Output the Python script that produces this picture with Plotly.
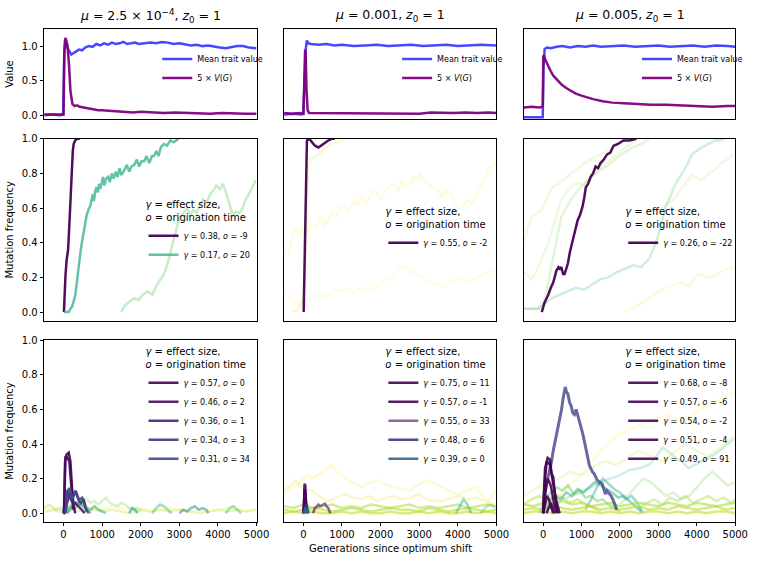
import plotly.graph_objects as go

FONT = "DejaVu Sans"

# ---------------- axes / labels ----------------
GEN_TICKS = [0, 1000, 2000, 3000, 4000, 5000]
FREQ_TICKS = [0.0, 0.2, 0.4, 0.6, 0.8, 1.0]
VALUE_TICKS = [0.0, 0.5, 1.0]
COL_TITLES = [
    "<i>μ</i> = 2.5 × 10<sup>−4</sup>, <i>z</i><sub>0</sub> = 1",
    "<i>μ</i> = 0.001, <i>z</i><sub>0</sub> = 1",
    "<i>μ</i> = 0.005, <i>z</i><sub>0</sub> = 1",
]
LEG_TITLE = "<i>γ</i> = effect size,<br><i>o</i> = origination time"
X_TITLE = "Generations since optimum shift"

# ---------------- row 1 : mean trait value and 5 x V(G) ----------------
r1c1_mean_x = [-500, -300, -100, -10, 20, 40, 80, 140, 200, 260, 330, 400, 480, 560, 650, 750, 850, 950, 1050, 1150, 1250, 1350, 1450, 1550, 1650, 1750, 1850, 1950, 2100, 2250, 2400, 2550, 2700, 2850, 3000, 3150, 3300, 3450, 3600, 3750, 3900, 4050, 4200, 4350, 4500, 4650, 4800, 5000]
r1c1_mean_y = [0.01, 0.02, 0.01, 0.02, 0.9, 1.1, 1.0, 0.93, 0.88, 0.9, 0.92, 0.95, 0.94, 0.98, 1.0, 0.99, 1.03, 1.01, 1.04, 1.02, 1.05, 1.03, 1.04, 1.06, 1.03, 1.04, 1.05, 1.03, 1.04, 1.05, 1.04, 1.06, 1.05, 1.03, 1.04, 1.02, 1.01, 1.02, 1.0, 1.01, 0.99, 0.98, 0.97, 0.99, 1.0, 1.0, 0.98, 0.97]
r1c1_var_x = [-500, -350, -200, -50, 0, 20, 50, 100, 140, 180, 230, 290, 350, 420, 500, 600, 700, 800, 900, 1000, 1200, 1400, 1600, 1800, 2000, 2300, 2600, 2900, 3200, 3500, 3800, 4100, 4400, 4700, 5000]
r1c1_var_y = [0.02, 0.02, 0.03, 0.02, 0.02, 0.9, 1.12, 1.02, 0.75, 0.35, 0.17, 0.14, 0.15, 0.13, 0.12, 0.11, 0.1, 0.09, 0.08, 0.08, 0.07, 0.06, 0.06, 0.05, 0.06, 0.05, 0.04, 0.05, 0.04, 0.04, 0.03, 0.04, 0.03, 0.03, 0.03]

r1c2_mean_x = [-500, -250, -50, 0, 30, 60, 90, 130, 200, 400, 600, 800, 1000, 1300, 1600, 1900, 2200, 2500, 2800, 3100, 3400, 3700, 4000, 4300, 4600, 5000]
r1c2_mean_y = [0.02, 0.03, 0.02, 0.03, 0.5, 0.95, 1.08, 1.04, 1.03, 1.02, 1.03, 1.01, 1.02, 1.0, 1.01, 1.02, 1.0, 1.01, 1.02, 1.0, 1.01, 1.02, 1.0, 1.01, 1.02, 1.01]
r1c2_var_x = [-500, -300, -100, 0, 20, 45, 60, 80, 110, 150, 300, 600, 900, 1200, 1500, 1800, 2100, 2400, 2700, 3000, 3300, 3600, 3900, 4200, 4500, 4800, 5000]
r1c2_var_y = [0.04, 0.03, 0.04, 0.03, 0.4, 0.95, 0.9, 0.4, 0.08, 0.04, 0.04, 0.03, 0.04, 0.04, 0.03, 0.04, 0.03, 0.04, 0.04, 0.03, 0.05, 0.04, 0.04, 0.05, 0.04, 0.05, 0.04]

r1c3_mean_x = [-500, -300, -100, -10, 10, 40, 100, 200, 350, 500, 700, 900, 1100, 1300, 1500, 1800, 2100, 2400, 2700, 3000, 3300, 3600, 3900, 4200, 4500, 4800, 5000]
r1c3_mean_y = [-0.02, -0.02, -0.03, -0.02, 0.7, 0.96, 0.98, 0.97, 0.99, 1.0, 0.98, 1.0, 0.99, 1.01, 0.99, 1.0, 1.01, 0.99, 1.0, 1.01, 0.99, 1.0, 1.01, 0.99, 1.01, 1.0, 0.99]
r1c3_var_x = [-500, -300, -100, -10, 5, 20, 60, 120, 190, 260, 360, 480, 600, 700, 850, 1000, 1150, 1300, 1550, 1800, 2100, 2400, 2800, 3200, 3600, 4000, 4400, 4800, 5000]
r1c3_var_y = [0.12, 0.13, 0.12, 0.13, 0.85, 0.87, 0.8, 0.72, 0.65, 0.58, 0.52, 0.45, 0.4, 0.37, 0.32, 0.29, 0.26, 0.24, 0.21, 0.19, 0.18, 0.17, 0.16, 0.16, 0.15, 0.14, 0.13, 0.14, 0.14]

# ---------------- row 2 : fixed mutations ----------------
r2c1_g038_x = [10, 30, 50, 80, 118, 150, 178, 200, 220, 240, 262, 300, 347, 420]
r2c1_g038_y = [0.0, 0.12, 0.21, 0.3, 0.36, 0.5, 0.65, 0.78, 0.87, 0.93, 0.97, 0.99, 1.0, 1.0]
r2c1_g017_x = [10, 60, 135, 180, 220, 260, 305, 350, 390, 430, 474, 520, 560, 600, 644, 690, 729, 760, 790, 820, 857, 890, 920, 950, 984, 1020, 1060, 1100, 1154, 1200, 1250, 1300, 1350, 1400, 1450, 1500, 1579, 1640, 1700, 1760, 1834, 1900, 1960, 2020, 2088, 2150, 2220, 2290, 2343, 2400, 2460, 2520, 2598, 2680, 2767, 2850, 2980]
r2c1_g017_y = [0.0, 0.0, 0.0, 0.02, 0.03, 0.06, 0.1, 0.18, 0.27, 0.33, 0.4, 0.46, 0.51, 0.56, 0.59, 0.61, 0.65, 0.68, 0.64, 0.7, 0.72, 0.69, 0.74, 0.71, 0.74, 0.78, 0.73, 0.77, 0.78, 0.75, 0.8, 0.77, 0.81, 0.78, 0.83, 0.79, 0.82, 0.85, 0.81, 0.84, 0.85, 0.88, 0.84, 0.87, 0.87, 0.9, 0.86, 0.9, 0.9, 0.93, 0.9, 0.95, 0.97, 0.96, 0.99, 0.98, 1.0]
r2c1_bg1_x = [1494, 1600, 1700, 1834, 1950, 2050, 2173, 2300, 2400, 2513, 2600, 2682, 2770, 2852, 2950, 3020, 3107, 3200, 3280, 3362, 3450, 3540, 3617, 3700, 3800, 3880, 3956, 4050, 4130, 4210, 4300, 4381, 4470, 4550, 4640, 4720, 4800, 4880, 4974]
r2c1_bg1_y = [0.0, 0.04, 0.06, 0.08, 0.07, 0.1, 0.12, 0.1, 0.15, 0.19, 0.22, 0.27, 0.35, 0.42, 0.5, 0.55, 0.57, 0.6, 0.56, 0.59, 0.57, 0.62, 0.65, 0.63, 0.68, 0.7, 0.73, 0.71, 0.74, 0.69, 0.62, 0.56, 0.58, 0.57, 0.6, 0.65, 0.68, 0.72, 0.76]

r2c2_g055_x = [8, 30, 60, 92, 150, 219, 300, 390, 450, 517, 580, 644, 729, 815]
r2c2_g055_y = [0.0, 0.3, 0.75, 0.99, 1.0, 0.98, 0.96, 0.95, 0.96, 0.97, 0.98, 0.99, 1.0, 1.0]
r2c2_bg1_x = [-290, -150, -35, 40, 92, 110, 200, 300, 390, 550, 729, 900, 1070]
r2c2_bg1_y = [0.0, 0.01, 0.05, 0.2, 0.46, 0.84, 0.88, 0.9, 0.91, 0.94, 0.97, 0.98, 1.0]
r2c2_bg2_x = [-502, -400, -300, -204, -100, 0, 100, 219, 330, 440, 550, 644, 750, 850, 960, 1070, 1180, 1290, 1400, 1493, 1600, 1700, 1800, 1918, 2020, 2130, 2240, 2343, 2450, 2560, 2660, 2766, 2870, 2960, 3021, 3120, 3240, 3362, 3480, 3600, 3700, 3785, 3900, 4020, 4126, 4240, 4350, 4465, 4580, 4700, 4804, 4974]
r2c2_bg2_y = [0.36, 0.33, 0.42, 0.48, 0.45, 0.5, 0.47, 0.51, 0.49, 0.55, 0.5, 0.53, 0.58, 0.55, 0.6, 0.61, 0.57, 0.64, 0.62, 0.67, 0.63, 0.66, 0.7, 0.69, 0.65, 0.7, 0.73, 0.74, 0.7, 0.76, 0.72, 0.74, 0.78, 0.75, 0.8, 0.76, 0.74, 0.72, 0.7, 0.66, 0.7, 0.69, 0.64, 0.6, 0.61, 0.65, 0.62, 0.67, 0.72, 0.76, 0.82, 0.86]
r2c2_bg3_x = [-502, -300, -120, 0, 219, 400, 600, 800, 1070, 1300, 1500, 1700, 1918, 2100, 2300, 2450, 2598, 2750, 2880, 3021, 3200, 3400, 3617, 3800, 3950, 4126, 4300, 4450, 4635, 4800, 4974]
r2c2_bg3_y = [0.12, 0.08, 0.04, 0.06, 0.08, 0.1, 0.09, 0.12, 0.13, 0.11, 0.14, 0.12, 0.15, 0.18, 0.2, 0.24, 0.27, 0.24, 0.22, 0.21, 0.18, 0.16, 0.15, 0.17, 0.2, 0.19, 0.17, 0.2, 0.21, 0.23, 0.25]

r2c3_g026_x = [-35, 30, 90, 135, 200, 262, 300, 347, 400, 440, 474, 520, 560, 600, 644, 700, 772, 840, 899, 960, 1027, 1070, 1112, 1170, 1239, 1300, 1366, 1430, 1494, 1580, 1664, 1750, 1834, 1950, 2088, 2250, 2427]
r2c3_g026_y = [0.0, 0.05, 0.08, 0.1, 0.14, 0.17, 0.2, 0.24, 0.26, 0.25, 0.26, 0.22, 0.22, 0.25, 0.28, 0.35, 0.42, 0.48, 0.53, 0.56, 0.61, 0.66, 0.72, 0.74, 0.78, 0.8, 0.84, 0.83, 0.86, 0.88, 0.91, 0.92, 0.96, 0.97, 0.99, 0.99, 1.0]
r2c3_bg1_x = [-502, -300, -120, 50, 220, 350, 474, 600, 729, 900, 1069, 1250, 1494, 1700, 1919, 2100, 2343, 2550, 2766]
r2c3_bg1_y = [0.02, 0.02, 0.02, 0.08, 0.27, 0.42, 0.55, 0.6, 0.65, 0.7, 0.74, 0.78, 0.82, 0.85, 0.89, 0.92, 0.95, 0.97, 1.0]
r2c3_bg2_x = [-502, -400, -290, -150, -35, 100, 220, 382, 500, 644, 850, 1069, 1250, 1494, 1700, 1919, 2173]
r2c3_bg2_y = [0.4, 0.48, 0.55, 0.57, 0.59, 0.66, 0.72, 0.74, 0.76, 0.78, 0.82, 0.86, 0.88, 0.91, 0.94, 0.97, 1.0]
r2c3_bg3_x = [-502, -400, -290, -150, -35, 100, 220, 350, 474, 644, 815, 1069, 1250, 1494, 1700, 1919, 2150, 2427]
r2c3_bg3_y = [0.23, 0.21, 0.19, 0.25, 0.31, 0.38, 0.46, 0.56, 0.65, 0.7, 0.74, 0.74, 0.79, 0.84, 0.87, 0.91, 0.95, 0.99]
r2c3_bg4_x = [-502, -300, -120, 50, 220, 430, 644, 850, 1069, 1280, 1494, 1700, 1919, 2130, 2343, 2550, 2766, 2900, 3021, 3100, 3191, 3300, 3446, 3530, 3616, 3750, 3871, 4000, 4126, 4300, 4465, 4600, 4720]
r2c3_bg4_y = [0.02, 0.02, 0.02, 0.05, 0.08, 0.1, 0.12, 0.14, 0.13, 0.16, 0.19, 0.2, 0.23, 0.25, 0.27, 0.26, 0.31, 0.38, 0.46, 0.53, 0.61, 0.66, 0.74, 0.77, 0.8, 0.85, 0.91, 0.93, 0.95, 0.97, 0.99, 0.99, 1.0]
r2c3_bg5_x = [3021, 3200, 3446, 3620, 3871, 4126, 4300, 4465, 4640, 4804, 4974]
r2c3_bg5_y = [0.59, 0.62, 0.66, 0.72, 0.79, 0.76, 0.8, 0.82, 0.86, 0.88, 0.92]
r2c3_bg6_x = [2088, 2400, 2766, 3000, 3191, 3400, 3616, 3800, 4041, 4250, 4465, 4700, 4974]
r2c3_bg6_y = [0.0, 0.03, 0.08, 0.12, 0.14, 0.16, 0.17, 0.15, 0.22, 0.2, 0.21, 0.24, 0.26]

# ---------------- row 3 : largest-effect mutations ----------------
BASE_X = [-500, -250, 0, 250, 500, 750, 1000, 1250, 1500, 1750, 2000, 2250, 2500, 2750, 3000, 3250, 3500, 3750, 4000, 4250, 4500, 4750, 5000]

r3c1_g057_x = [0, 10, 40, 80, 135, 178, 220, 262, 305]
r3c1_g057_y = [0.0, 0.0, 0.3, 0.34, 0.35, 0.3, 0.15, 0.04, 0.0]
r3c1_g046_x = [5, 20, 50, 100, 150, 200, 250]
r3c1_g046_y = [0.0, 0.05, 0.33, 0.32, 0.3, 0.13, 0.02]
r3c1_g036_x = [30, 100, 150, 220, 262, 305, 390, 474, 550]
r3c1_g036_y = [0.0, 0.06, 0.11, 0.07, 0.05, 0.06, 0.04, 0.02, 0.0]
r3c1_g034_x = [40, 80, 110, 150, 200, 250, 305, 350, 400, 450, 517, 560, 600]
r3c1_g034_y = [0.0, 0.1, 0.13, 0.12, 0.07, 0.1, 0.13, 0.1, 0.07, 0.06, 0.08, 0.04, 0.01]
r3c1_g031_x = [60, 100, 140, 180, 220, 280, 330, 380, 430, 480, 530, 594, 650]
r3c1_g031_y = [0.0, 0.13, 0.14, 0.13, 0.08, 0.11, 0.12, 0.09, 0.08, 0.09, 0.07, 0.02, 0.0]
r3c1_bg1_x = [0, 100, 200, 300, 400, 500, 600, 700, 800, 900, 1000, 1100]
r3c1_bg1_y = [0.0, 0.02, 0.04, 0.03, 0.05, 0.06, 0.03, 0.02, 0.04, 0.02, 0.01, 0.0]
r3c1_bg2_x = [100, 200, 300, 400, 500, 600, 700]
r3c1_bg2_y = [0.0, 0.03, 0.05, 0.06, 0.04, 0.02, 0.0]
r3c1_bg3_x = [-500, -400, -300, -200, -100, 0, 100, 200, 300, 400, 500, 600, 700, 800, 900, 1000, 1100, 1200, 1300, 1400, 1500, 1600, 1700, 1800, 1900, 2000]
r3c1_bg3_y = [0.03, 0.05, 0.04, 0.02, 0.03, 0.01, 0.03, 0.05, 0.06, 0.07, 0.09, 0.08, 0.06, 0.07, 0.05, 0.07, 0.09, 0.06, 0.05, 0.04, 0.06, 0.05, 0.03, 0.02, 0.03, 0.01]
r3c1_bg4_x = [1700, 1780, 1850, 1920]
r3c1_bg4_y = [0.0, 0.03, 0.02, 0.0]
r3c1_bg5_x = [2300, 2400, 2500, 2600, 2700, 2800]
r3c1_bg5_y = [0.0, 0.03, 0.05, 0.04, 0.02, 0.0]
r3c1_bg6_x = [3000, 3100, 3200, 3300, 3400, 3500, 3600, 3700, 3750]
r3c1_bg6_y = [0.0, 0.02, 0.01, 0.03, 0.04, 0.02, 0.03, 0.02, 0.0]
r3c1_bg7_x = [4200, 4300, 4400, 4500, 4600]
r3c1_bg7_y = [0.0, 0.03, 0.04, 0.02, 0.0]
r3c1_base_a = [0.01, 0.02, 0.0, 0.02, 0.01, 0.02, 0.01, 0.02, 0.01, 0.0, 0.02, 0.01, 0.02, 0.01, 0.02, 0.01, 0.0, 0.01, 0.02, 0.01, 0.02, 0.01, 0.02]
r3c1_base_b = [0.03, 0.02, 0.04, 0.03, 0.05, 0.03, 0.02, 0.04, 0.03, 0.02, 0.03, 0.01, 0.02, 0.03, 0.02, 0.01, 0.02, 0.01, 0.02, 0.03, 0.02, 0.01, 0.02]

r3c2_g075_x = [0, 15, 30, 50, 65, 80, 100]
r3c2_g075_y = [0.0, 0.05, 0.17, 0.16, 0.05, 0.01, 0.0]
r3c2_g057_x = [0, 20, 35, 55, 70, 90]
r3c2_g057_y = [0.0, 0.08, 0.14, 0.12, 0.03, 0.0]
r3c2_g055_x = [250, 300, 350, 390, 430, 474, 520, 560, 600, 644, 700]
r3c2_g055_y = [0.0, 0.03, 0.04, 0.05, 0.04, 0.045, 0.05, 0.055, 0.04, 0.03, 0.0]
r3c2_g048_x = [10, 40, 70, 100, 130]
r3c2_g048_y = [0.0, 0.03, 0.05, 0.02, 0.0]
r3c2_g039_x = [20, 50, 80, 110]
r3c2_g039_y = [0.0, 0.03, 0.02, 0.0]
r3c2_bg1_x = [0, 30, 60, 90, 120, 150]
r3c2_bg1_y = [0.0, 0.04, 0.06, 0.05, 0.02, 0.0]
r3c2_bg2_x = [-502, -350, -204, -50, 100, 219, 350, 500, 644, 729, 850, 960, 1070, 1200, 1350, 1493, 1650, 1800, 1918, 2100, 2343, 2550, 2766, 2950, 3191, 3400, 3617, 3850, 4041, 4250, 4465, 4650, 4804, 4974]
r3c2_bg2_y = [0.12, 0.14, 0.16, 0.19, 0.22, 0.2, 0.22, 0.24, 0.26, 0.28, 0.24, 0.23, 0.21, 0.18, 0.17, 0.15, 0.17, 0.18, 0.19, 0.17, 0.15, 0.14, 0.13, 0.16, 0.19, 0.17, 0.15, 0.12, 0.11, 0.13, 0.15, 0.1, 0.07, 0.13]
r3c2_bg3_x = [-502, -350, -204, -50, 100, 219, 400, 644, 850, 1070, 1300, 1500, 1700, 1918, 2150, 2343, 2550, 2766, 3000, 3191, 3400, 3617, 3850, 4041, 4250, 4465, 4700, 4974]
r3c2_bg3_y = [0.13, 0.16, 0.19, 0.15, 0.14, 0.13, 0.1, 0.07, 0.09, 0.11, 0.09, 0.08, 0.1, 0.07, 0.09, 0.1, 0.08, 0.09, 0.11, 0.08, 0.07, 0.07, 0.09, 0.1, 0.08, 0.09, 0.07, 0.05]
r3c2_bg4_x = [3950, 4050, 4150, 4250, 4350]
r3c2_bg4_y = [0.0, 0.04, 0.08, 0.05, 0.0]
r3c2_bg5_x = [4600, 4750, 4850, 4974]
r3c2_bg5_y = [0.0, 0.04, 0.05, 0.03]
r3c2_base_a = [0.02, 0.01, 0.02, 0.03, 0.02, 0.01, 0.02, 0.03, 0.02, 0.01, 0.02, 0.03, 0.02, 0.02, 0.01, 0.03, 0.02, 0.01, 0.02, 0.03, 0.02, 0.01, 0.02]
r3c2_base_b = [0.04, 0.03, 0.05, 0.03, 0.04, 0.05, 0.03, 0.04, 0.03, 0.05, 0.04, 0.03, 0.04, 0.05, 0.03, 0.04, 0.03, 0.04, 0.05, 0.03, 0.04, 0.05, 0.04]
r3c2_base_c = [0.0, 0.01, 0.0, 0.01, 0.0, 0.0, 0.01, 0.0, 0.01, 0.0, 0.0, 0.01, 0.0, 0.0, 0.01, 0.0, 0.01, 0.0, 0.0, 0.01, 0.0, 0.01, 0.0]

r3c3_g068_x = [0, 20, 50, 118, 178, 220, 262, 305, 347, 390]
r3c3_g068_y = [0.0, 0.1, 0.26, 0.32, 0.31, 0.23, 0.21, 0.11, 0.035, 0.0]
r3c3_g057_x = [0, 30, 93, 178, 262, 347, 430]
r3c3_g057_y = [0.0, 0.15, 0.3, 0.28, 0.17, 0.07, 0.0]
r3c3_g054_x = [10, 60, 120, 200, 280, 350]
r3c3_g054_y = [0.0, 0.12, 0.2, 0.16, 0.06, 0.0]
r3c3_g051_x = [0, 50, 100, 150, 200, 260]
r3c3_g051_y = [0.0, 0.05, 0.1, 0.08, 0.04, 0.0]
r3c3_g049_x = [90, 150, 200, 250, 300]
r3c3_g049_y = [0.0, 0.04, 0.06, 0.03, 0.0]
r3c3_peak_x = [0, 30, 60, 93, 130, 178, 220, 262, 300, 347, 390, 432, 480, 517, 550, 576, 610, 644, 690, 729, 770, 815, 860, 899, 940, 984, 1030, 1070, 1110, 1154, 1200, 1238, 1280, 1324, 1370, 1409, 1470, 1536, 1580, 1620, 1660, 1706, 1770, 1834, 1880, 1918]
r3c3_peak_y = [0.0, 0.1, 0.15, 0.19, 0.21, 0.26, 0.3, 0.36, 0.4, 0.45, 0.5, 0.55, 0.6, 0.66, 0.69, 0.73, 0.7, 0.69, 0.64, 0.62, 0.58, 0.57, 0.6, 0.57, 0.53, 0.49, 0.46, 0.42, 0.37, 0.32, 0.28, 0.26, 0.24, 0.23, 0.21, 0.19, 0.18, 0.17, 0.14, 0.11, 0.13, 0.12, 0.1, 0.07, 0.04, 0.02]
r3c3_bg1_x = [0, 150, 300, 450, 600, 750, 900, 1050, 1200, 1350, 1500, 1650, 1800, 1950, 2100, 2250, 2400, 2550]
r3c3_bg1_y = [0.0, 0.06, 0.1, 0.08, 0.12, 0.1, 0.14, 0.12, 0.15, 0.18, 0.16, 0.14, 0.12, 0.09, 0.1, 0.07, 0.04, 0.01]
r3c3_bg2_x = [-100, 50, 200, 350, 500, 650, 800, 950, 1100, 1250, 1400, 1550, 1700, 1850, 2000]
r3c3_bg2_y = [0.0, 0.08, 0.12, 0.15, 0.13, 0.16, 0.11, 0.13, 0.09, 0.1, 0.07, 0.08, 0.05, 0.03, 0.01]
r3c3_bg3_x = [1100, 1250, 1400, 1550, 1700, 1850, 2000, 2150, 2300, 2450, 2600]
r3c3_bg3_y = [0.02, 0.08, 0.15, 0.2, 0.17, 0.14, 0.12, 0.08, 0.1, 0.06, 0.0]
r3c3_bg4_x = [-500, -300, -100, 100, 300, 500, 700, 900, 1100, 1300, 1500]
r3c3_bg4_y = [0.05, 0.08, 0.1, 0.07, 0.11, 0.09, 0.06, 0.08, 0.05, 0.03, 0.01]
r3c3_bg5_x = [2500, 2700, 2900, 3100, 3300, 3500, 3700, 3900, 4100, 4300, 4500, 4700, 4900, 5000]
r3c3_bg5_y = [0.03, 0.06, 0.08, 0.05, 0.09, 0.07, 0.1, 0.06, 0.08, 0.1, 0.07, 0.09, 0.06, 0.08]
r3c3_bg6_x = [0, 250, 500, 750, 1000, 1250, 1500, 1750, 2000, 2250, 2500, 2766, 2950, 3107, 3300, 3446, 3600, 3786, 3950, 4126, 4300, 4465, 4640, 4804, 4974]
r3c3_bg6_y = [0.0, 0.05, 0.08, 0.1, 0.12, 0.15, 0.18, 0.2, 0.22, 0.25, 0.26, 0.28, 0.33, 0.38, 0.35, 0.32, 0.3, 0.26, 0.28, 0.3, 0.32, 0.34, 0.37, 0.4, 0.43]
r3c3_bg7_x = [0, 300, 600, 900, 1200, 1494, 1700, 1919, 2100, 2343, 2550, 2766, 2950, 3191, 3400, 3617, 3850, 4041, 4250, 4465, 4650, 4804, 4974]
r3c3_bg7_y = [0.0, 0.08, 0.15, 0.2, 0.28, 0.36, 0.4, 0.45, 0.47, 0.49, 0.51, 0.53, 0.55, 0.57, 0.55, 0.53, 0.56, 0.59, 0.62, 0.64, 0.66, 0.68, 0.7]
r3c3_bg8_x = [-500, -200, 100, 400, 700, 1000, 1300, 1600, 1900, 2200, 2500, 2800, 3100, 3400, 3700, 4000, 4300, 4600, 4974]
r3c3_bg8_y = [0.1, 0.14, 0.18, 0.2, 0.24, 0.22, 0.27, 0.3, 0.28, 0.32, 0.36, 0.33, 0.3, 0.35, 0.4, 0.36, 0.33, 0.38, 0.45]
r3c3_bg9_x = [2000, 2200, 2400, 2600, 2800, 3000, 3200, 3400, 3600, 3800, 4000, 4200, 4400, 4600, 4800, 4974]
r3c3_bg9_y = [0.05, 0.1, 0.15, 0.2, 0.18, 0.14, 0.1, 0.12, 0.08, 0.1, 0.15, 0.2, 0.24, 0.2, 0.16, 0.18]
r3c3_base_a = [0.02, 0.03, 0.02, 0.04, 0.03, 0.02, 0.03, 0.04, 0.02, 0.03, 0.02, 0.03, 0.04, 0.02, 0.03, 0.02, 0.04, 0.03, 0.02, 0.03, 0.04, 0.02, 0.03]
r3c3_base_b = [0.05, 0.04, 0.06, 0.05, 0.07, 0.05, 0.06, 0.04, 0.05, 0.06, 0.04, 0.05, 0.06, 0.05, 0.04, 0.06, 0.05, 0.04, 0.06, 0.05, 0.04, 0.05, 0.06]
r3c3_base_c = [0.0, 0.01, 0.01, 0.0, 0.01, 0.0, 0.01, 0.01, 0.0, 0.01, 0.0, 0.01, 0.0, 0.01, 0.01, 0.0, 0.01, 0.0, 0.01, 0.0, 0.01, 0.01, 0.0]

# ---------------- styling ----------------
BLUE = "rgba(0,0,255,0.72)"
PURPLE = "rgba(128,0,128,0.95)"
DARK = "rgba(68,1,84,0.95)"
YG_STRONG = "rgba(189,223,38,0.6)"
YG_FAINT = "rgba(189,223,38,0.3)"

XDOM = [[45 / 762, 261 / 762], [289 / 762, 505 / 762], [533 / 762, 748 / 762]]
YDOM = [[1 - 115 / 563, 1 - 23 / 563], [1 - 319.3 / 563, 1 - 134.7 / 563], [1 - 523.3 / 563, 1 - 339 / 563]]
YRANGE = [[-0.05, 1.25], [-0.05, 1.0], [-0.05, 1.0]]

fig = go.Figure()


def ids(r, c):
    i = r * 3 + c + 1
    s = "" if i == 1 else str(i)
    return "x" + s, "y" + s, "legend" + s


def line(r, c, x, y, color, width=2.5, name=None):
    xa, ya, lg = ids(r, c)
    fig.add_trace(go.Scatter(
        x=x, y=y, mode="lines", xaxis=xa, yaxis=ya, legend=lg,
        line=dict(color=color, width=width), name=name if name else "",
        showlegend=name is not None, hoverinfo="skip"))


def gl(g, o):
    return f"<i>γ</i> = {g}, <i>o</i> = {o}"


# row 1
for c, (mx, my, vx, vy) in enumerate([
        (r1c1_mean_x, r1c1_mean_y, r1c1_var_x, r1c1_var_y),
        (r1c2_mean_x, r1c2_mean_y, r1c2_var_x, r1c2_var_y),
        (r1c3_mean_x, r1c3_mean_y, r1c3_var_x, r1c3_var_y)]):
    line(0, c, mx, my, BLUE, 2.5, "Mean trait value")
    line(0, c, vx, vy, PURPLE, 2.5, "5 × <i>V</i>(<i>G</i>)")

# row 2
line(1, 0, r2c1_bg1_x, r2c1_bg1_y, "rgba(94,201,98,0.35)")
line(1, 0, r2c1_g038_x, r2c1_g038_y, DARK, 2.5, gl("0.38", "-9"))
line(1, 0, r2c1_g017_x, r2c1_g017_y, "rgba(34,168,132,0.7)", 2.5, gl("0.17", "20"))

line(1, 1, r2c2_bg2_x, r2c2_bg2_y, "rgba(253,231,37,0.15)")
line(1, 1, r2c2_bg3_x, r2c2_bg3_y, "rgba(253,231,37,0.12)")
line(1, 1, r2c2_bg1_x, r2c2_bg1_y, "rgba(220,227,25,0.2)")
line(1, 1, r2c2_g055_x, r2c2_g055_y, DARK, 2.5, gl("0.55", "-2"))

line(1, 2, r2c3_bg6_x, r2c3_bg6_y, "rgba(220,227,25,0.15)")
line(1, 2, r2c3_bg2_x, r2c3_bg2_y, "rgba(160,218,57,0.15)")
line(1, 2, r2c3_bg3_x, r2c3_bg3_y, "rgba(160,218,57,0.17)")
line(1, 2, r2c3_bg1_x, r2c3_bg1_y, "rgba(122,209,81,0.22)")
line(1, 2, r2c3_bg5_x, r2c3_bg5_y, "rgba(160,218,57,0.15)")
line(1, 2, r2c3_bg4_x, r2c3_bg4_y, "rgba(68,191,112,0.25)")
line(1, 2, r2c3_g026_x, r2c3_g026_y, DARK, 2.5, gl("0.26", "-22"))

# row 3, col 1
line(2, 0, BASE_X, r3c1_base_a, YG_FAINT)
line(2, 0, BASE_X, r3c1_base_b, "rgba(253,231,37,0.2)")
line(2, 0, r3c1_bg3_x, r3c1_bg3_y, "rgba(122,209,81,0.3)")
line(2, 0, r3c1_bg1_x, r3c1_bg1_y, "rgba(53,183,121,0.6)")
line(2, 0, r3c1_bg2_x, r3c1_bg2_y, "rgba(31,158,137,0.6)")
line(2, 0, r3c1_bg4_x, r3c1_bg4_y, "rgba(31,158,137,0.6)")
line(2, 0, r3c1_bg5_x, r3c1_bg5_y, "rgba(68,191,112,0.5)")
line(2, 0, r3c1_bg6_x, r3c1_bg6_y, "rgba(38,130,142,0.5)")
line(2, 0, r3c1_bg7_x, r3c1_bg7_y, "rgba(68,191,112,0.5)")
line(2, 0, r3c1_g057_x, r3c1_g057_y, "rgba(68,1,84,0.9)", 2.5, gl("0.57", "0"))
line(2, 0, r3c1_g046_x, r3c1_g046_y, "rgba(69,10,94,0.9)", 2.5, gl("0.46", "2"))
line(2, 0, r3c1_g036_x, r3c1_g036_y, "rgba(72,33,114,0.9)", 2.5, gl("0.36", "1"))
line(2, 0, r3c1_g034_x, r3c1_g034_y, "rgba(70,51,126,0.9)", 2.5, gl("0.34", "3"))
line(2, 0, r3c1_g031_x, r3c1_g031_y, "rgba(62,74,137,0.9)", 2.5, gl("0.31", "34"))

# row 3, col 2
line(2, 1, r3c2_bg2_x, r3c2_bg2_y, "rgba(253,231,37,0.2)")
line(2, 1, r3c2_bg3_x, r3c2_bg3_y, "rgba(220,227,25,0.22)")
line(2, 1, BASE_X, r3c2_base_c, YG_STRONG)
line(2, 1, BASE_X, r3c2_base_a, YG_STRONG)
line(2, 1, BASE_X, r3c2_base_b, "rgba(160,218,57,0.5)")
line(2, 1, r3c2_bg4_x, r3c2_bg4_y, "rgba(53,183,121,0.5)")
line(2, 1, r3c2_bg5_x, r3c2_bg5_y, "rgba(94,201,98,0.4)")
line(2, 1, r3c2_bg1_x, r3c2_bg1_y, "rgba(53,183,121,0.8)")
line(2, 1, r3c2_g075_x, r3c2_g075_y, "rgba(68,1,84,0.9)", 2.5, gl("0.75", "11"))
line(2, 1, r3c2_g057_x, r3c2_g057_y, "rgba(68,2,86,0.9)", 2.5, gl("0.57", "-1"))
line(2, 1, r3c2_g055_x, r3c2_g055_y, "rgba(69,5,89,0.6)", 2.5, gl("0.55", "33"))
line(2, 1, r3c2_g048_x, r3c2_g048_y, "rgba(69,53,129,0.9)", 2.5, gl("0.48", "6"))
line(2, 1, r3c2_g039_x, r3c2_g039_y, "rgba(49,102,142,0.9)", 2.5, gl("0.39", "0"))

# row 3, col 3
line(2, 2, r3c3_bg7_x, r3c3_bg7_y, "rgba(253,231,37,0.18)")
line(2, 2, r3c3_bg8_x, r3c3_bg8_y, "rgba(189,223,38,0.2)")
line(2, 2, r3c3_bg6_x, r3c3_bg6_y, "rgba(94,201,160,0.3)")
line(2, 2, r3c3_bg9_x, r3c3_bg9_y, "rgba(122,209,81,0.25)")
line(2, 2, r3c3_bg5_x, r3c3_bg5_y, "rgba(160,218,57,0.4)")
line(2, 2, r3c3_bg4_x, r3c3_bg4_y, "rgba(184,222,41,0.5)")
line(2, 2, r3c3_bg2_x, r3c3_bg2_y, "rgba(108,205,90,0.5)")
line(2, 2, r3c3_bg1_x, r3c3_bg1_y, "rgba(53,183,121,0.55)")
line(2, 2, r3c3_bg3_x, r3c3_bg3_y, "rgba(31,158,137,0.4)")
line(2, 2, BASE_X, r3c3_base_c, YG_STRONG)
line(2, 2, BASE_X, r3c3_base_a, YG_STRONG)
line(2, 2, BASE_X, r3c3_base_b, "rgba(160,218,57,0.55)")
line(2, 2, r3c3_peak_x, r3c3_peak_y, "rgba(65,68,135,0.8)", 3)
line(2, 2, r3c3_g068_x, r3c3_g068_y, "rgba(68,1,84,0.9)", 2.5, gl("0.68", "-8"))
line(2, 2, r3c3_g057_x, r3c3_g057_y, "rgba(68,2,85,0.9)", 2.5, gl("0.57", "-6"))
line(2, 2, r3c3_g054_x, r3c3_g054_y, "rgba(68,3,86,0.9)", 2.5, gl("0.54", "-2"))
line(2, 2, r3c3_g051_x, r3c3_g051_y, "rgba(69,4,87,0.9)", 2.5, gl("0.51", "-4"))
line(2, 2, r3c3_g049_x, r3c3_g049_y, "rgba(69,5,89,0.9)", 2.5, gl("0.49", "91"))

# ---------------- layout ----------------
layout = dict(
    width=762, height=563, margin=dict(l=0, r=0, t=0, b=0),
    paper_bgcolor="white", plot_bgcolor="white",
    font=dict(family=FONT, size=10, color="black"),
    annotations=[], showlegend=True,
)
tickfont = dict(family=FONT, size=10, color="black")
for r in range(3):
    for c in range(3):
        xa, ya, lg = ids(r, c)
        xk = "xaxis" + xa[1:]
        yk = "yaxis" + ya[1:]
        layout[xk] = dict(
            domain=XDOM[c], anchor=ya, range=[-500, 5000], showline=True, mirror=True,
            linecolor="black", linewidth=1, showgrid=False, zeroline=False,
            ticks="outside" if r == 2 else "", ticklen=3.5, tickwidth=0.8, tickcolor="black",
            tickvals=GEN_TICKS, showticklabels=(r == 2), tickfont=tickfont)
        layout[yk] = dict(
            domain=YDOM[r], anchor=xa, range=YRANGE[r], showline=True, mirror=True,
            linecolor="black", linewidth=1, showgrid=False, zeroline=False,
            ticks="outside" if c == 0 else "", ticklen=3.5, tickwidth=0.8, tickcolor="black",
            tickvals=VALUE_TICKS if r == 0 else FREQ_TICKS, tickformat=".1f",
            showticklabels=(c == 0), tickfont=tickfont)
        if r == 0:
            layout[lg] = dict(
                x=(160 + 244 * c) / 762, y=1 - 39 / 563, xanchor="left", yanchor="top",
                bgcolor="rgba(0,0,0,0)", font=dict(family=FONT, size=8, color="black"),
                itemwidth=30, tracegroupgap=0)
        else:
            ytop = (192 if c == 0 else 199) if r == 1 else 341
            layout[lg] = dict(
                x=(146 + 244 * c) / 762, y=1 - ytop / 563, xanchor="left", yanchor="top",
                bgcolor="rgba(0,0,0,0)", font=dict(family=FONT, size=8, color="black"),
                itemwidth=30, tracegroupgap=0,
                title=dict(text=LEG_TITLE, font=dict(family=FONT, size=10, color="black")))

layout["yaxis"]["title"] = dict(text="Value", font=dict(family=FONT, size=10), standoff=6)
layout["yaxis4"]["title"] = dict(text="Mutation frequency", font=dict(family=FONT, size=10), standoff=6)
layout["yaxis7"]["title"] = dict(text="Mutation frequency", font=dict(family=FONT, size=10), standoff=6)

for c in range(3):
    layout["annotations"].append(dict(
        text=COL_TITLES[c], x=sum(XDOM[c]) / 2, y=1 - 10 / 563, xref="paper", yref="paper",
        xanchor="center", yanchor="middle", showarrow=False,
        font=dict(family=FONT, size=12.5, color="black")))
layout["annotations"].append(dict(
    text=X_TITLE, x=sum(XDOM[1]) / 2, y=1 - 550 / 563, xref="paper", yref="paper",
    xanchor="center", yanchor="middle", showarrow=False,
    font=dict(family=FONT, size=10, color="black")))

fig.update_layout(**layout)
fig.write_html(
    "out.html",
    config={"displayModeBar": False},
    post_script="document.body.style.margin='0';document.body.style.overflow='hidden';",
)
